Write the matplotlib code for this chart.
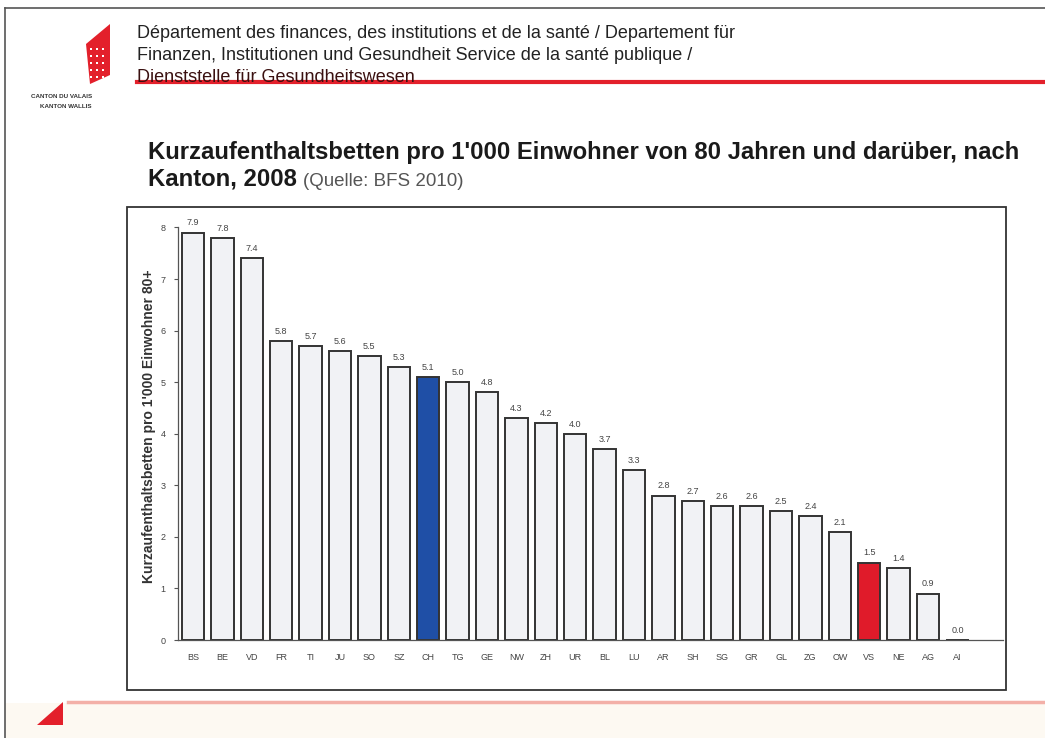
import matplotlib
matplotlib.use("Agg")
import matplotlib.pyplot as plt
from matplotlib.patches import Polygon, Rectangle
from matplotlib.lines import Line2D

cantons = ["BS", "BE", "VD", "FR", "TI", "JU", "SO", "SZ", "CH", "TG", "GE", "NW", "ZH", "UR",
           "BL", "LU", "AR", "SH", "SG", "GR", "GL", "ZG", "OW", "VS", "NE", "AG", "AI"]
values = [7.9, 7.8, 7.4, 5.8, 5.7, 5.6, 5.5, 5.3, 5.1, 5.0, 4.8, 4.3, 4.2, 4.0,
          3.7, 3.3, 2.8, 2.7, 2.6, 2.6, 2.5, 2.4, 2.1, 1.5, 1.4, 0.9, 0.0]
highlight_blue = "CH"
highlight_red = "VS"
yticks = [0, 1, 2, 3, 4, 5, 6, 7, 8]

W, H = 1045, 738
fig = plt.figure(figsize=(W / 100, H / 100), dpi=100)
fig.patch.set_facecolor("white")

def fx(x):
    return x / W

def fy(y):
    return 1 - y / H

FONT = "Liberation Sans"

# page border
fig.add_artist(Line2D([fx(5), fx(5)], [fy(8), fy(738)], color="#555555", lw=1.2))
fig.add_artist(Line2D([fx(5), fx(1045)], [fy(8), fy(8)], color="#555555", lw=1.2))

# bottom beige band and red line
fig.add_artist(Rectangle((fx(5), 0), 1 - fx(5), fy(703), color="#fdf9f2", lw=0, zorder=0))
fig.add_artist(Line2D([fx(68), fx(1045)], [fy(702), fy(702)], color="#f3b0a8", lw=2.5))
fig.add_artist(Polygon([[fx(37), fy(725)], [fx(63), fy(725)], [fx(63), fy(702)]],
                       closed=True, color="#e3202b", lw=0))

# logo
fig.add_artist(Polygon([[fx(86), fy(44)], [fx(110), fy(24)], [fx(110), fy(75)], [fx(90), fy(84)]],
                       closed=True, color="#e3202b", lw=0))
for i in range(5):
    for j in range(3):
        fig.add_artist(Rectangle((fx(90 + j * 6), fy(50 + i * 7)), 2 / W, 2 / H, color="white", lw=0))
fig.text(fx(62), fy(97), "CANTON DU VALAIS", fontsize=4.5, family=FONT, weight="bold",
         ha="center", va="center", color="#333333")
fig.text(fx(66), fy(107), "KANTON WALLIS", fontsize=4.5, family=FONT, weight="bold",
         ha="center", va="center", color="#333333")

# header text
fig.text(fx(137), fy(33), "Département des finances, des institutions et de la santé / Departement für",
         fontsize=13, family=FONT, va="center", color="#222222")
fig.text(fx(137), fy(55), "Finanzen, Institutionen und Gesundheit Service de la santé publique /",
         fontsize=13, family=FONT, va="center", color="#222222")
fig.text(fx(137), fy(77), "Dienststelle für Gesundheitswesen",
         fontsize=13, family=FONT, va="center", color="#3a1010")
fig.add_artist(Line2D([fx(137), fx(1045)], [fy(82), fy(82)], color="#e3202b", lw=3))

# title
fig.text(fx(148), fy(152), "Kurzaufenthaltsbetten pro 1'000 Einwohner von 80 Jahren und darüber, nach",
         fontsize=17.2, family=FONT, weight="bold", va="center", color="#1a1a1a")
fig.text(fx(148), fy(179), "Kanton, 2008", fontsize=17.2, family=FONT, weight="bold",
         va="center", color="#1a1a1a")
fig.text(fx(303), fy(181), "(Quelle: BFS 2010)", fontsize=13.5, family=FONT,
         va="center", color="#555555")

# chart frame
frame = Rectangle((fx(127), fy(690)), fx(1006) - fx(127), fy(207) - fy(690),
                  fill=False, edgecolor="#333333", lw=1.3, zorder=1)
fig.add_artist(frame)

# axes
ax = fig.add_axes([fx(178), fy(640), fx(1003) - fx(178), fy(212) - fy(640)])
ax.set_facecolor("none")
x = list(range(len(cantons)))
colors = []
for c in cantons:
    if c == highlight_blue:
        colors.append("#1f4fa6")
    elif c == highlight_red:
        colors.append("#e01b2a")
    else:
        colors.append("#f1f2f5")
ax.bar(x, values, width=0.76, color=colors, edgecolor="#333333", linewidth=1.4, zorder=2)
for xi, v in zip(x, values):
    ax.text(xi, v + 0.1, f"{v:.1f}", ha="center", va="bottom", fontsize=6.5,
            family=FONT, color="#444444")
ax.set_xlim(-0.51, 27.55)
ax.set_ylim(0, 8.3)
ax.set_yticks(yticks)
ax.set_yticklabels([str(v) for v in yticks], fontsize=6.5, family=FONT, color="#444444")
ax.set_xticks(x)
ax.set_xticklabels(cantons, fontsize=6.5, family=FONT, color="#444444")
ax.tick_params(axis="x", length=0, pad=9)
ax.tick_params(axis="y", length=3, width=0.8, color="#555555", pad=6)
for s in ["top", "right"]:
    ax.spines[s].set_visible(False)
ax.spines["left"].set_bounds(0, 8)
ax.spines["left"].set_color("#555555")
ax.spines["bottom"].set_color("#555555")
ax.spines["left"].set_linewidth(0.9)
ax.spines["bottom"].set_linewidth(0.9)
ax.set_ylabel("Kurzaufenthaltsbetten pro 1'000 Einwohner 80+", fontsize=10, family=FONT,
              weight="bold", color="#333333", labelpad=3)

fig.savefig("out.png", dpi=100)
